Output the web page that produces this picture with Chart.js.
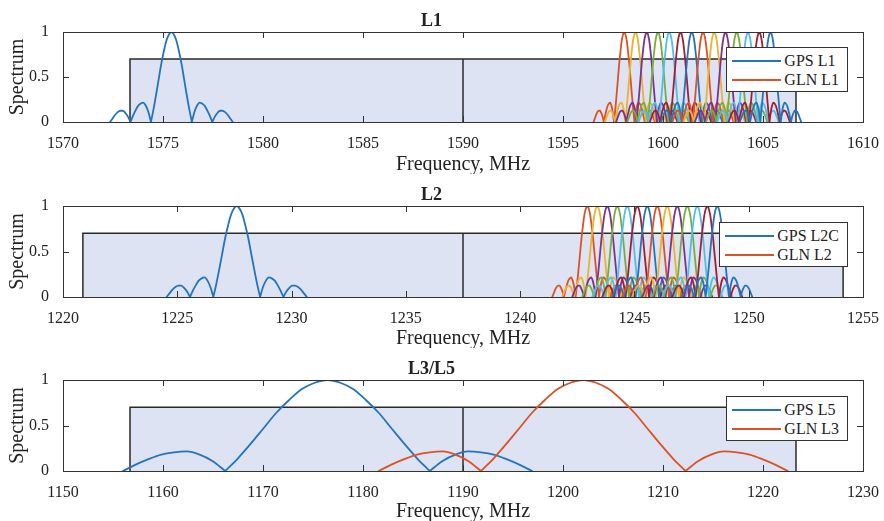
<!DOCTYPE html>
<html>
<head>
<meta charset="utf-8">
<script src="https://cdn.jsdelivr.net/npm/chart.js@4"></script>
<style>
  html, body { margin: 0; padding: 0; background: #fff; }
  body { width: 884px; height: 521px; position: relative; overflow: hidden; font-family: "Liberation Serif", serif; color: #222; }
  .panel { position: absolute; left: 0; width: 884px; }
  .legend { position: absolute; right: 36px; background: #fff; border: 1px solid #333; padding: 3px 8px 2px 5px; font-size: 16px; }
  .row { display: flex; align-items: center; height: 19px; white-space: nowrap; }
  .swatch { width: 49px; height: 2px; margin-right: 3px; }
</style>
</head>
<body>
<div class="panel" style="top:0;height:174px"><canvas id="c1" width="884" height="174"></canvas><div class="legend" id="lg1" style="top:47px"></div></div>
<div class="panel" style="top:174px;height:174px"><canvas id="c2" width="884" height="174"></canvas><div class="legend" id="lg2" style="top:48px"></div></div>
<div class="panel" style="top:348px;height:173px"><canvas id="c3" width="884" height="173"></canvas><div class="legend" id="lg3" style="top:48px"></div></div>
<script>
// lobe shape: offset in null widths, normalised level
const mainOff = [-1, -0.875, -0.75, -0.625, -0.5, -0.375, -0.25, -0.125, 0,
                 0.125, 0.25, 0.375, 0.5, 0.625, 0.75, 0.875, 1];
const mainLvl = [0, 0.14, 0.30, 0.47, 0.64, 0.78, 0.90, 0.97, 1,
                 0.97, 0.90, 0.78, 0.64, 0.47, 0.30, 0.14, 0];
const side1Off = [1, 1.125, 1.25, 1.375, 1.5, 1.625, 1.75, 1.875, 2];
const side1Lvl = [0, 0.11, 0.18, 0.215, 0.205, 0.18, 0.13, 0.07, 0];
const side2Off = [2, 2.125, 2.25, 2.375, 2.5, 2.625, 2.75, 2.875, 3];
const side2Lvl = [0, 0.06, 0.10, 0.125, 0.125, 0.11, 0.08, 0.04, 0];

// carrier centres, MHz
const gpsL1 = 1575.42;
const glnL1 = [1598.0625, 1598.625, 1599.1875, 1599.75, 1600.3125, 1600.875, 1601.4375,
               1602.0, 1602.5625, 1603.125, 1603.6875, 1604.25, 1604.8125, 1605.375];
const gpsL2C = 1227.6;
const glnL2 = [1242.9375, 1243.375, 1243.8125, 1244.25, 1244.6875, 1245.125, 1245.5625,
               1246.0, 1246.4375, 1246.875, 1247.3125, 1247.75, 1248.1875, 1248.625];
const gpsL5 = 1176.45;
const glnL3 = 1202.025;

// first null offsets, MHz
const nullGps = 1.023;
const nullGln = 0.511;
const nullL5 = 10.23;

// receiver bands (lo, centre, hi) and level
const bandL1 = [1573.35, 1590, 1606.65];
const bandL2 = [1220.87, 1237.5, 1254.13];
const bandL35 = [1156.7, 1190, 1223.3];
const bandLevel = 0.7;

const colors = ['#2474bd', '#dc5226', '#edb12e', '#7c3290', '#79ad39', '#4dbfee', '#a51d35'];

function spectrum(fc, w, sides) {
  const sl = [[side1Off, side1Lvl], [side2Off, side2Lvl]].slice(0, sides);
  const segs = [];
  for (let i = sl.length - 1; i >= 0; i--)
    segs.push(sl[i][0].map((o, j) => ({x: fc - o * w, y: sl[i][1][j]})).reverse());
  segs.push(mainOff.map((o, j) => ({x: fc + o * w, y: mainLvl[j]})));
  sl.forEach(([off, lvl]) => segs.push(off.map((o, j) => ({x: fc + o * w, y: lvl[j]}))));
  const pts = [];
  segs.forEach((s, k) => { if (k) pts.push({x: s[0].x, y: null}); pts.push(...s); });
  return pts;
}

function curve(data, color, order) {
  return {data, borderColor: color, borderWidth: 1.8, pointRadius: 0, fill: false,
          cubicInterpolationMode: 'monotone', borderCapStyle: 'round', order};
}

function bandSets(b) {
  return [
    {data: [{x: b[0], y: 0}, {x: b[0], y: bandLevel}, {x: b[2], y: bandLevel}, {x: b[2], y: 0}],
     borderColor: '#2a2a2a', borderWidth: 1.5, backgroundColor: '#dde3f2', fill: 'origin',
     pointRadius: 0, tension: 0, order: 1000},
    {data: [{x: b[1], y: 0}, {x: b[1], y: bandLevel}], borderColor: '#2a2a2a', borderWidth: 1.5,
     pointRadius: 0, fill: false, order: 999}
  ];
}

const boxTicks = {
  id: 'boxTicks',
  afterDatasetsDraw(chart) {
    const {ctx, chartArea: a, scales: {x, y}} = chart;
    ctx.save();
    ctx.strokeStyle = '#333';
    ctx.lineWidth = 1;
    ctx.beginPath();
    x.ticks.forEach(t => {
      const p = Math.round(x.getPixelForValue(t.value)) + 0.5;
      ctx.moveTo(p, a.bottom); ctx.lineTo(p, a.bottom - 6);
      ctx.moveTo(p, a.top); ctx.lineTo(p, a.top + 6);
    });
    y.ticks.forEach(t => {
      const p = Math.round(y.getPixelForValue(t.value)) + 0.5;
      ctx.moveTo(a.left, p); ctx.lineTo(a.left + 6, p);
      ctx.moveTo(a.right, p); ctx.lineTo(a.right - 6, p);
    });
    ctx.stroke();
    ctx.strokeRect(Math.round(a.left) + 0.5, Math.round(a.top) + 0.5, Math.round(a.width), Math.round(a.height));
    ctx.restore();
  }
};

Chart.defaults.font.family = '"Liberation Serif", serif';
Chart.defaults.color = '#222';

function makePanel(id, title, xMin, xMax, xStep, xHeight, datasets) {
  new Chart(document.getElementById(id), {
    type: 'line',
    data: {datasets},
    options: {
      responsive: false,
      animation: false,
      layout: {padding: {left: 0, right: 21, top: 0, bottom: 0}},
      plugins: {
        legend: {display: false},
        tooltip: {enabled: false},
        title: {display: true, text: title, font: {size: 18, weight: 'bold'}, padding: {top: 10.4, bottom: 0}, color: '#222'}
      },
      scales: {
        x: {
          type: 'linear', min: xMin, max: xMax,
          grid: {display: false}, border: {display: false},
          ticks: {stepSize: xStep, autoSkip: false, maxRotation: 0, padding: 4, font: {size: 16}, callback: v => String(v)},
          title: {display: true, text: 'Frequency, MHz', font: {size: 20, lineHeight: 1}, padding: {top: 0, bottom: -1}},
          afterFit(s) { s.height = xHeight; }
        },
        y: {
          min: 0, max: 1,
          grid: {display: false}, border: {display: false},
          ticks: {stepSize: 0.5, padding: 6, font: {size: 16}, callback: v => String(v)},
          title: {display: true, text: 'Spectrum', font: {size: 20, lineHeight: 1}, padding: {top: 8, bottom: 0}},
          afterFit(s) { s.width = 63; }
        }
      }
    },
    plugins: [boxTicks]
  });
}

function legend(id, items) {
  document.getElementById(id).innerHTML = items.map(([c, t]) =>
    `<div class="row"><span class="swatch" style="background:${c}"></span><span>${t}</span></div>`).join('');
}

function panelSets(gpsFc, gpsW, gpsSides, glnFcs, glnW, glnSides, band) {
  const sets = [curve(spectrum(gpsFc, gpsW, gpsSides), colors[0], 100)];
  glnFcs.forEach((fc, i) => sets.push(curve(spectrum(fc, glnW, glnSides), colors[(i + 1) % colors.length], 99 - i)));
  return sets.concat(bandSets(band));
}

makePanel('c1', 'L1', 1570, 1610, 5, 52, panelSets(gpsL1, nullGps, 2, glnL1, nullGln, 2, bandL1));
makePanel('c2', 'L2', 1220, 1255, 5, 51, panelSets(gpsL2C, nullGps, 2, glnL2, nullGln, 2, bandL2));
makePanel('c3', 'L3/L5', 1150, 1230, 10, 50, panelSets(gpsL5, nullL5, 1, [glnL3], nullL5, 1, bandL35));

legend('lg1', [[colors[0], 'GPS L1'], [colors[1], 'GLN L1']]);
legend('lg2', [[colors[0], 'GPS L2C'], [colors[1], 'GLN L2']]);
legend('lg3', [[colors[0], 'GPS L5'], [colors[1], 'GLN L3']]);
</script>
</body>
</html>
